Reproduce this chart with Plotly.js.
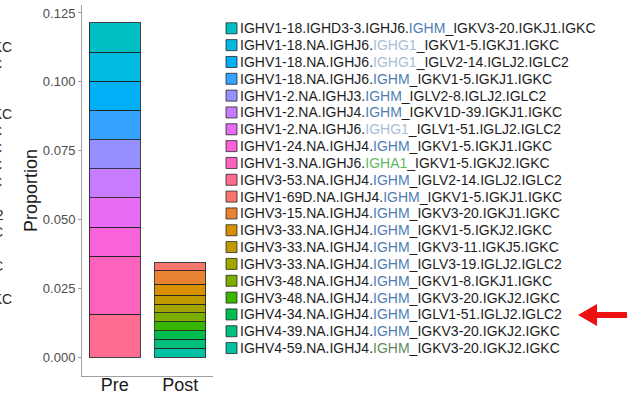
<!DOCTYPE html>
<html>
<head>
<meta charset="utf-8">
<script src="https://cdn.plot.ly/plotly-3.0.1.min.js"></script>
<style>html,body{margin:0;padding:0;background:#fff;}#chart{width:636px;height:398px;}</style>
</head>
<body>
<div id="chart"></div>
<script>
// ---- data ----
const categories = ['Pre', 'Post'];
const heavyChains = [
  'IGHV1-18.IGHD3-3.IGHJ6', 'IGHV1-18.NA.IGHJ6', 'IGHV1-18.NA.IGHJ6', 'IGHV1-18.NA.IGHJ6',
  'IGHV1-2.NA.IGHJ3', 'IGHV1-2.NA.IGHJ4', 'IGHV1-2.NA.IGHJ6', 'IGHV1-24.NA.IGHJ4',
  'IGHV1-3.NA.IGHJ6', 'IGHV3-53.NA.IGHJ4', 'IGHV1-69D.NA.IGHJ4', 'IGHV3-15.NA.IGHJ4',
  'IGHV3-33.NA.IGHJ4', 'IGHV3-33.NA.IGHJ4', 'IGHV3-33.NA.IGHJ4', 'IGHV3-48.NA.IGHJ4',
  'IGHV3-48.NA.IGHJ4', 'IGHV4-34.NA.IGHJ4', 'IGHV4-39.NA.IGHJ4', 'IGHV4-59.NA.IGHJ4'
];
const isotypes = [
  'IGHM', 'IGHG1', 'IGHG1', 'IGHM', 'IGHM', 'IGHM', 'IGHG1', 'IGHM', 'IGHA1', 'IGHM',
  'IGHM', 'IGHM', 'IGHM', 'IGHM', 'IGHM', 'IGHM', 'IGHM', 'IGHM', 'IGHM', 'IGHM'
];
const lightChains = [
  'IGKV3-20.IGKJ1.IGKC', 'IGKV1-5.IGKJ1.IGKC', 'IGLV2-14.IGLJ2.IGLC2', 'IGKV1-5.IGKJ1.IGKC',
  'IGLV2-8.IGLJ2.IGLC2', 'IGKV1D-39.IGKJ1.IGKC', 'IGLV1-51.IGLJ2.IGLC2', 'IGKV1-5.IGKJ1.IGKC',
  'IGKV1-5.IGKJ2.IGKC', 'IGLV2-14.IGLJ2.IGLC2', 'IGKV1-5.IGKJ1.IGKC', 'IGKV3-20.IGKJ1.IGKC',
  'IGKV1-5.IGKJ2.IGKC', 'IGKV3-11.IGKJ5.IGKC', 'IGLV3-19.IGLJ2.IGLC2', 'IGKV1-8.IGKJ1.IGKC',
  'IGKV3-20.IGKJ2.IGKC', 'IGLV1-51.IGLJ2.IGLC2', 'IGKV3-20.IGKJ2.IGKC', 'IGKV3-20.IGKJ2.IGKC'
];
const preValues = [
  0.0106, 0.0106, 0.0106, 0.0106, 0.0106, 0.0106, 0.0106, 0.0106, 0.0211, 0.0155,
  null, null, null, null, null, null, null, null, null, null
];
const postValues = [
  null, null, null, null, null, null, null, null, null, null,
  0.0028, 0.0050, 0.0040, 0.0032, 0.0032, 0.0032, 0.0032, 0.0032, 0.0032, 0.0032
];
const colors = [
  '#00BFC4', '#00BAE0', '#00B0F6', '#35A2FF', '#9590FF', '#C77CFF', '#E76BF3', '#FA62DB', '#FF62BC', '#FF6C91',
  '#F8766D', '#EA8331', '#D89000', '#C09B00', '#A3A500', '#7CAE00', '#39B600', '#00BB4E', '#00BF7D', '#00C1A3'
];
const isotypeColors = {IGHM: '#4f7db3', IGHG1: '#a9bdd6', IGHA1: '#62b862'};
const lastRowIsotypeColor = '#5e8a56';
const yTicks = [0, 0.025, 0.05, 0.075, 0.1, 0.125];
const leftFragments = [
  {row: 0, text: 'IGKC', edge: 14}, {row: 1, text: 'IGKC', edge: 4},
  {row: 4, text: 'IGKC', edge: 14}, {row: 5, text: 'IGKC', edge: 4},
  {row: 6, text: 'IGKC', edge: 4}, {row: 7, text: 'IGKC', edge: 4},
  {row: 8, text: 'IGKC', edge: 4}, {row: 10, text: 'IGLC2', edge: 6},
  {row: 11, text: 'IGKC', edge: 5}, {row: 13, text: 'IGKC', edge: 5},
  {row: 15, text: 'IGKC', edge: 14}
];

// ---- layout helpers (pixel -> paper) ----
const M = {l: 82, r: 423, t: 5, b: 22};
const W = 636, H = 398;
const pw = W - M.l - M.r, ph = H - M.t - M.b;
const px2x = p => (p - M.l) / pw;
const py2y = p => (H - M.b - p) / ph;
const FONT = 'Liberation Sans, Arial, sans-serif';

// ---- traces (first trace at bottom of stack) ----
const traces = [];
for (let i = heavyChains.length - 1; i >= 0; i--) {
  traces.push({
    type: 'bar',
    x: categories,
    y: [preValues[i], postValues[i]],
    name: heavyChains[i] + '.' + isotypes[i] + '_' + lightChains[i],
    marker: {color: colors[i], line: {color: 'rgba(35,35,35,0.85)', width: 1}},
    showlegend: false,
    hoverinfo: 'skip'
  });
}

// ---- custom legend ----
const annotations = [];
const shapes = [];
const rowY0 = 28.3, rowStep = 16.83;
heavyChains.forEach((h, i) => {
  const cy = rowY0 + rowStep * i;
  const isoCol = (i === heavyChains.length - 1) ? lastRowIsotypeColor : isotypeColors[isotypes[i]];
  annotations.push({
    xref: 'paper', yref: 'paper', x: px2x(238), y: py2y(cy),
    xanchor: 'left', yanchor: 'middle', showarrow: false,
    text: h + '.<span style="color:' + isoCol + '">' + isotypes[i] + '</span>_' + lightChains[i],
    font: {family: FONT, size: 14, color: '#1e1e1e'}
  });
  shapes.push({
    type: 'rect', xref: 'paper', yref: 'paper',
    x0: px2x(226), x1: px2x(237), y0: py2y(cy + 5.5), y1: py2y(cy - 5.5),
    fillcolor: colors[i], line: {color: 'rgba(40,40,40,0.8)', width: 1}
  });
});

// cut-off fragments of a neighbouring panel on the far left
leftFragments.forEach(f => {
  annotations.push({
    xref: 'paper', yref: 'paper', x: px2x(f.edge), y: py2y(47 + rowStep * f.row),
    xanchor: 'right', yanchor: 'middle', showarrow: false,
    text: f.text, font: {family: FONT, size: 14, color: '#2a2a2a'}
  });
});

// red arrow pointing at the highlighted legend entry
const arrowPts = [[578, 315], [597, 304], [597, 312], [627, 312], [627, 318], [597, 318], [597, 326]];
shapes.push({
  type: 'path', xref: 'paper', yref: 'paper',
  path: 'M ' + arrowPts.map(p => px2x(p[0]) + ',' + py2y(p[1])).join(' L ') + ' Z',
  fillcolor: '#ee1111', line: {color: '#ee1111', width: 0}
});

const layout = {
  width: W, height: H,
  margin: M,
  paper_bgcolor: '#ffffff', plot_bgcolor: '#ffffff',
  barmode: 'stack', bargap: 0.22,
  showlegend: false,
  font: {family: FONT},
  xaxis: {
    type: 'category', range: [-0.5, 1.5], fixedrange: true,
    showline: true, linecolor: '#a0a0a0', linewidth: 1,
    ticks: '', showgrid: false, zeroline: false,
    ticklabelstandoff: -8,
    tickfont: {family: FONT, size: 18, color: '#1a1a1a'}
  },
  yaxis: {
    range: [-0.0069, 0.1279], fixedrange: true,
    tickvals: yTicks, tickformat: '.3f',
    showline: true, linecolor: '#a0a0a0', linewidth: 1,
    ticks: 'outside', ticklen: 3, tickcolor: '#a0a0a0',
    showgrid: false, zeroline: false,
    tickfont: {family: FONT, size: 13, color: '#4d4d4d'},
    title: {text: 'Proportion', font: {family: FONT, size: 18, color: '#1a1a1a'}, standoff: 0}
  },
  annotations: annotations,
  shapes: shapes
};

Plotly.newPlot('chart', traces, layout, {displayModeBar: false, staticPlot: true});
</script>
</body>
</html>
